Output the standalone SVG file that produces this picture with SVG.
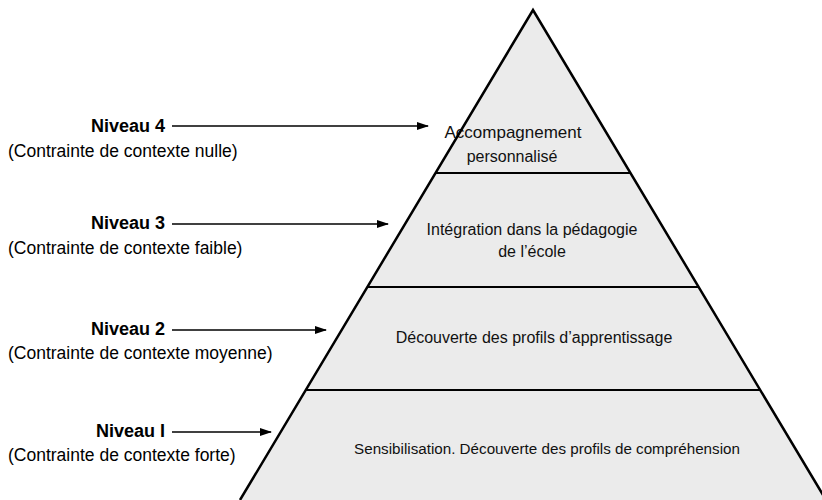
<svg xmlns="http://www.w3.org/2000/svg" width="822" height="500" viewBox="0 0 822 500">
<style>
.lvl{fill:#ebebeb;stroke:none}
.edge{fill:none;stroke:#000;stroke-width:2.5;stroke-linejoin:miter}
.div{stroke:#000;stroke-width:2}
.t{font-family:"Liberation Sans",Arial,sans-serif;font-size:16px;fill:#111;text-anchor:middle}
.n{font-family:"Liberation Sans",Arial,sans-serif;font-size:18px;font-weight:bold;fill:#000;text-anchor:end}
.s{font-family:"Liberation Sans",Arial,sans-serif;font-size:17.5px;fill:#000}
.arr{stroke:#000;stroke-width:1.5;fill:none;marker-end:url(#ah)}
</style>
<defs>
<marker id="ah" viewBox="0 0 12 8" refX="11" refY="4" markerWidth="12" markerHeight="8" markerUnits="userSpaceOnUse" orient="auto">
<path d="M0,0 L12,4 L0,8 Z" fill="#000"/>
</marker>
</defs>
<rect width="822" height="500" fill="#fff"/>
<g id="layer4">
<polygon class="lvl" points="533,10 630.5,173 435.5,173"/>
<text class="t" x="513" y="138" style="font-size:17px">Accompagnement</text>
<text class="t" x="512" y="162">personnalisé</text>
</g>
<g id="layer3">
<polygon class="lvl" points="435.5,173 630.5,173 698.6,287 367.4,287"/>
<text class="t" x="532" y="235">Intégration dans la pédagogie</text>
<text class="t" x="532" y="257">de l’école</text>
</g>
<g id="layer2">
<polygon class="lvl" points="367.4,287 698.6,287 760.2,390 305.8,390"/>
<text class="t" x="534" y="343">Découverte des profils d’apprentissage</text>
</g>
<g id="layer1">
<polygon class="lvl" points="305.8,390 760.2,390 826,500 240,500"/>
<text class="t" x="547" y="454" style="font-size:15.2px">Sensibilisation. Découverte des profils de compréhension</text>
</g>
<g id="outline">
<polyline class="edge" points="240,500 533,10 826,500"/>
<line class="div" x1="435.5" y1="173" x2="630.5" y2="173"/>
<line class="div" x1="367.4" y1="287" x2="698.6" y2="287"/>
<line class="div" x1="305.8" y1="390" x2="760.2" y2="390"/>
</g>
<g id="label4">
<text class="n" x="165" y="132">Niveau 4</text>
<text class="s" x="8" y="157">(Contrainte de contexte nulle)</text>
</g>
<g id="label3">
<text class="n" x="165" y="229">Niveau 3</text>
<text class="s" x="8" y="254">(Contrainte de contexte faible)</text>
</g>
<g id="label2">
<text class="n" x="165" y="335">Niveau 2</text>
<text class="s" x="8" y="359">(Contrainte de contexte moyenne)</text>
</g>
<g id="label1">
<text class="n" x="165" y="437">Niveau I</text>
<text class="s" x="8" y="461">(Contrainte de contexte forte)</text>
</g>
<g id="connectors">
<line class="arr" x1="172" y1="126" x2="428" y2="126"/>
<line class="arr" x1="172" y1="224" x2="388" y2="224"/>
<line class="arr" x1="172" y1="330" x2="326" y2="330"/>
<line class="arr" x1="172" y1="432" x2="271" y2="432"/>
</g>
</svg>
